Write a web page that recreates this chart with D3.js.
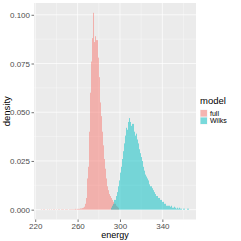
<!DOCTYPE html>
<html><head><meta charset="utf-8">
<script src="https://cdn.jsdelivr.net/npm/d3@7"></script>
<style>html,body{margin:0;padding:0;background:#fff;}svg{display:block;}</style>
</head><body>
<script>
// ---- data ----
const binWidth = 1;
const seriesNames = ["full", "Wilks"];
const seriesColors = ["#F8766D", "#00BFC4"];
const fullStart = 225.8;
const fullDensity = [
  0.0002,0,0.0002,0,0,0.0002,0,0.0002,0,0.0002,
  0,0.0002,0.0002,0,0.0002,0,0.0002,0.0002,0,0.0002,
  0.0002,0,0.0002,0.0002,0.0002,0,0.0002,0.0002,0.0002,0.0002,
  0.0002,0.0002,0.0004,0.0002,0.0004,0.0004,0.0006,0.0006,0.0008,0.001,
  0.0015,0.003,
  0.006,0.016,0.022,0.04,0.06,0.076,0.088,0.101,0.086,0.089,
  0.087,0.078,0.068,0.055,0.048,0.04,0.033,0.026,0.021,0.016,
  0.012,0.010,0.008,0.007,0.006,0.005,0.004,0.003,0.002,0.0015,0.001
];
const wilksStart = 291.8;
const wilksDensity = [
  0.001,0.002,0.003,0.005,0.007,0.009,0.012,0.015,0.019,0.022,
  0.026,0.030,0.034,0.038,0.042,0.041,0.045,0.047,0.045,0.043,
  0.044,0.040,0.038,0.039,0.036,0.034,0.031,0.029,0.027,0.025,
  0.022,0.020,0.018,0.017,0.016,0.015,0.013,0.012,0.011,0.010,
  0.009,0.008,0.007,0.007,0.006,0.006,0.005,0.005,0.004,0.004,
  0.003,0.003,0.002,0.002,0.002,0.0015,0.002,0.001,0.001,0.0015,
  0.001,0.0005,0.001,0.0005,0.001,0.0005,0.0005,0,0.0005,0.0005,
  0,0.0005,0.0005
];
const xTicks = [220, 260, 300, 340];
const xMinor = [240, 280, 320, 360];
const yTicks = [0, 0.025, 0.05, 0.075, 0.1];
const yTickLabels = ["0.000", "0.025", "0.050", "0.075", "0.100"];
const yMinor = [0.0125, 0.0375, 0.0625, 0.0875];
const xTitle = "energy", yTitle = "density", legendTitle = "model";

// ---- build ----
const W = 241, H = 241;
const panel = {l: 34, r: 196, t: 3, b: 219.5};
const toBins = (start, dens) => dens.map((d, i) => ({x0: start + i*binWidth, x1: start + (i+1)*binWidth, d}));
const series = [toBins(fullStart, fullDensity), toBins(wilksStart, wilksDensity)];
const xMinD = fullStart, xMaxD = wilksStart + wilksDensity.length*binWidth;
const yMaxD = d3.max([...fullDensity, ...wilksDensity]);
const xe = (xMaxD - xMinD)*0.05, ye = yMaxD*0.05;
const x = d3.scaleLinear().domain([xMinD - xe, xMaxD + xe]).range([panel.l, panel.r]);
const y = d3.scaleLinear().domain([-ye, yMaxD + ye]).range([panel.b, panel.t]);

const svg = d3.select("body").append("svg").attr("width", W).attr("height", H);
svg.append("rect").attr("width", W).attr("height", H).attr("fill", "#fff");
svg.append("rect").attr("x", panel.l).attr("y", panel.t).attr("width", panel.r-panel.l).attr("height", panel.b-panel.t).attr("fill", "#EBEBEB");

const grid = svg.append("g");
grid.selectAll(".xm").data(xMinor).join("line").attr("x1", d=>x(d)).attr("x2", d=>x(d)).attr("y1", panel.t).attr("y2", panel.b).attr("stroke", "#fff").attr("stroke-width", 0.35);
grid.selectAll(".ym").data(yMinor).join("line").attr("y1", d=>y(d)).attr("y2", d=>y(d)).attr("x1", panel.l).attr("x2", panel.r).attr("stroke", "#fff").attr("stroke-width", 0.35);
grid.selectAll(".xM").data(xTicks).join("line").attr("x1", d=>x(d)).attr("x2", d=>x(d)).attr("y1", panel.t).attr("y2", panel.b).attr("stroke", "#fff").attr("stroke-width", 0.7);
grid.selectAll(".yM").data(yTicks).join("line").attr("y1", d=>y(d)).attr("y2", d=>y(d)).attr("x1", panel.l).attr("x2", panel.r).attr("stroke", "#fff").attr("stroke-width", 0.7);

series.forEach((bins, si) => {
  svg.append("g").selectAll("rect").data(bins.filter(b=>b.d>0)).join("rect")
    .attr("x", b=>Math.round(x(b.x0))).attr("width", b=>Math.max(0, Math.round(x(b.x1))-Math.round(x(b.x0))))
    .attr("y", b=>y(b.d)).attr("height", b=>y(0)-y(b.d))
    .attr("fill", seriesColors[si]).attr("fill-opacity", 0.5);
});

const font = "'Liberation Sans', Arial, sans-serif";
// axes
const xAxis = svg.append("g").attr("transform", `translate(0,${panel.b})`)
  .call(d3.axisBottom(x).tickValues(xTicks).tickSize(2.5).tickPadding(1));
const yAxis = svg.append("g").attr("transform", `translate(${panel.l},0)`)
  .call(d3.axisLeft(y).tickValues(yTicks).tickFormat((d,i)=>yTickLabels[i]).tickSize(2.5).tickPadding(1.5));
[xAxis, yAxis].forEach(a => {
  a.select(".domain").remove();
  a.selectAll(".tick line").attr("stroke", "#333").attr("stroke-width", 0.7);
  a.selectAll(".tick text").attr("fill", "#4D4D4D").attr("font-size", 8).attr("font-family", font);
});
svg.append("text").attr("x", (panel.l+panel.r)/2).attr("y", 238).attr("text-anchor", "middle")
  .attr("font-size", 9).attr("font-family", font).attr("fill", "#000").text(xTitle);
svg.append("text").attr("transform", `translate(10,${(panel.t+panel.b)/2}) rotate(-90)`).attr("text-anchor", "middle")
  .attr("font-size", 9.5).attr("font-family", font).attr("fill", "#000").text(yTitle);

// legend
const lg = svg.append("g").attr("transform", "translate(200,96)");
lg.append("text").attr("x", 0).attr("y", 8).attr("font-size", 9.5).attr("font-family", font).text(legendTitle);
seriesNames.forEach((n, i) => {
  const gy = 13.5 + i*7.5;
  lg.append("rect").attr("x", 0).attr("y", gy).attr("width", 7.5).attr("height", 7.5).attr("fill", "#F2F2F2");
  lg.append("rect").attr("x", 0.5).attr("y", gy+0.5).attr("width", 6.5).attr("height", 6.5).attr("fill", seriesColors[i]).attr("fill-opacity", 0.5);
  lg.append("text").attr("x", 10).attr("y", gy+6.2).attr("font-size", 7).attr("font-family", font).attr("fill", "#000").text(n);
});
</script>
</body></html>
